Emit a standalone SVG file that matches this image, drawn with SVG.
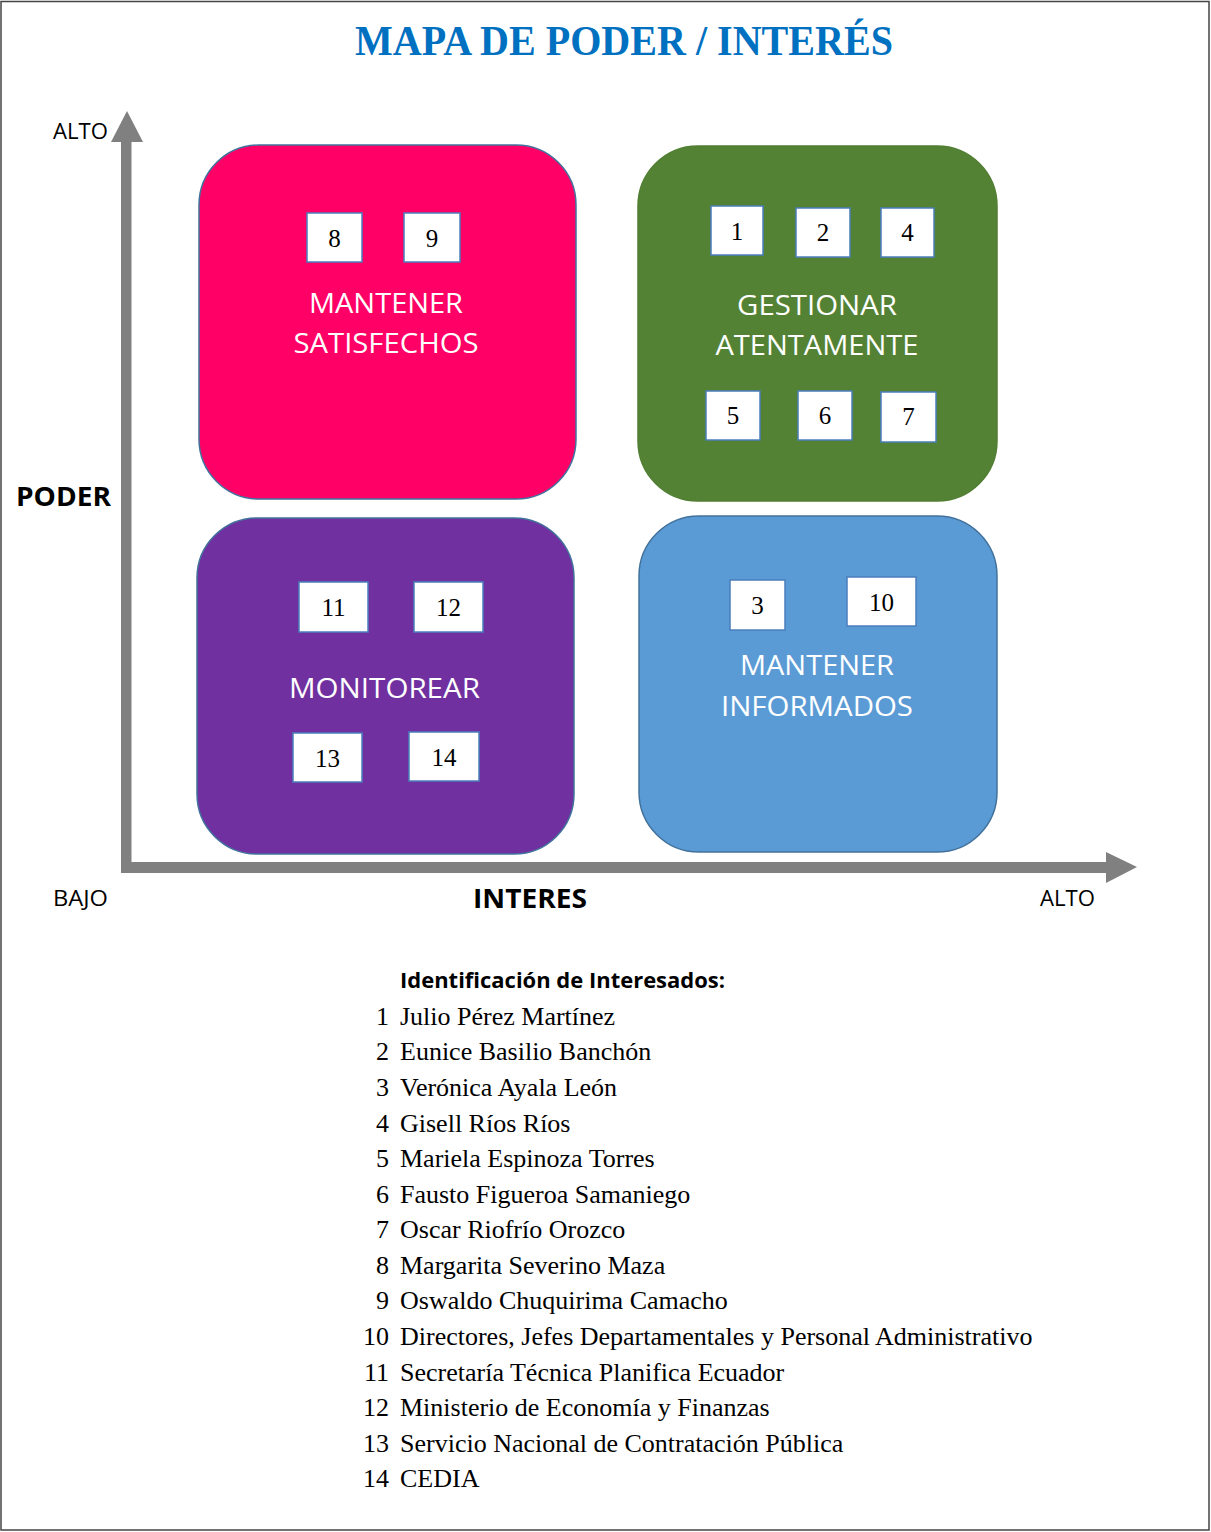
<svg xmlns="http://www.w3.org/2000/svg" width="1211" height="1532" viewBox="0 0 1211 1532">
<style>
.sans{font-family:"Open Sans","Liberation Sans",sans-serif;}
.lbl{font-family:"Open Sans","Liberation Sans",sans-serif;font-size:21px;fill:#000;}
.axt{font-family:"Open Sans","Liberation Sans",sans-serif;font-size:27px;font-weight:bold;fill:#000;}
.quad{stroke:#41719C;stroke-width:1.5;}
.qt{font-family:"Open Sans","Liberation Sans",sans-serif;font-size:28px;fill:#fff;text-anchor:middle;}
.box{fill:#fff;stroke:#4A7EBB;stroke-width:1.5;}
.num{font-family:"Liberation Serif","DejaVu Serif",serif;font-size:25px;fill:#000;text-anchor:middle;}
.li{font-family:"Liberation Serif","DejaVu Serif",serif;font-size:26px;fill:#000;}
.ln{text-anchor:end;}
</style>
<rect x="0" y="0" width="1211" height="1532" fill="#fff"/>
<rect x="1" y="1.5" width="1208" height="1528.5" fill="none" stroke="#444" stroke-width="1.5"/>
<text id="title" x="624" y="55" text-anchor="middle" font-family="'Liberation Serif',serif" font-weight="bold" font-size="42" fill="#0070C0" textLength="538" lengthAdjust="spacingAndGlyphs">MAPA DE PODER / INTERÉS</text>

<g id="axes" fill="#808080">
  <rect x="121" y="140" width="10.5" height="733"/>
  <polygon points="127,111 143,142 111,142"/>
  <rect x="121" y="862" width="986" height="11"/>
  <polygon points="1137,867 1106,852 1106,883"/>
</g>

<g id="axis-labels">
  <text class="lbl" x="53" y="139" textLength="55" lengthAdjust="spacingAndGlyphs">ALTO</text>
  <text class="axt" x="16" y="506" textLength="95" lengthAdjust="spacingAndGlyphs">PODER</text>
  <text class="lbl" x="53" y="906" textLength="55" lengthAdjust="spacingAndGlyphs">BAJO</text>
  <text class="axt" x="473" y="908" textLength="114" lengthAdjust="spacingAndGlyphs">INTERES</text>
  <text class="lbl" x="1040" y="906" textLength="55" lengthAdjust="spacingAndGlyphs">ALTO</text>
</g>

<g id="q-satisfechos">
  <rect class="quad" x="199" y="145" width="377" height="354" rx="60" fill="#FF0066"/>
  <rect class="box" x="307" y="213" width="55" height="49"/>
  <text class="num" x="334.5" y="247">8</text>
  <rect class="box" x="404" y="213" width="56" height="49"/>
  <text class="num" x="432" y="247">9</text>
  <text class="qt" x="386" y="313" textLength="154" lengthAdjust="spacingAndGlyphs">MANTENER</text>
  <text class="qt" x="386" y="353" textLength="185" lengthAdjust="spacingAndGlyphs">SATISFECHOS</text>
</g>

<g id="q-gestionar">
  <rect x="638" y="146" width="359" height="355" rx="60" fill="#548235" stroke="#507E32" stroke-width="1.5"/>
  <rect class="box" x="711" y="206" width="52" height="49"/>
  <text class="num" x="737" y="240">1</text>
  <rect class="box" x="796" y="208" width="54" height="49"/>
  <text class="num" x="823" y="241">2</text>
  <rect class="box" x="881" y="208" width="53" height="49"/>
  <text class="num" x="907.5" y="241">4</text>
  <text class="qt" x="817" y="315" textLength="160" lengthAdjust="spacingAndGlyphs">GESTIONAR</text>
  <text class="qt" x="817" y="355" textLength="203" lengthAdjust="spacingAndGlyphs">ATENTAMENTE</text>
  <rect class="box" x="706" y="391" width="54" height="49"/>
  <text class="num" x="733" y="424">5</text>
  <rect class="box" x="798" y="391" width="54" height="49"/>
  <text class="num" x="825" y="424">6</text>
  <rect class="box" x="881" y="392" width="55" height="50"/>
  <text class="num" x="908.5" y="425">7</text>
</g>

<g id="q-monitorear">
  <rect class="quad" x="197" y="518" width="377" height="336" rx="60" fill="#7030A0"/>
  <rect class="box" x="299" y="582" width="69" height="50"/>
  <text class="num" x="333.5" y="616">11</text>
  <rect class="box" x="414" y="582" width="69" height="50"/>
  <text class="num" x="448.5" y="616">12</text>
  <text class="qt" x="384.5" y="698" textLength="191" lengthAdjust="spacingAndGlyphs">MONITOREAR</text>
  <rect class="box" x="293" y="733" width="69" height="49"/>
  <text class="num" x="327.5" y="767">13</text>
  <rect class="box" x="409" y="732" width="70" height="49"/>
  <text class="num" x="444" y="766">14</text>
</g>

<g id="q-informados">
  <rect class="quad" x="639" y="516" width="358" height="336" rx="60" fill="#5B9BD5"/>
  <rect class="box" x="730" y="580" width="55" height="50"/>
  <text class="num" x="757.5" y="614">3</text>
  <rect class="box" x="847" y="577" width="69" height="49"/>
  <text class="num" x="881.5" y="611">10</text>
  <text class="qt" x="817" y="675" textLength="154" lengthAdjust="spacingAndGlyphs">MANTENER</text>
  <text class="qt" x="817" y="716" textLength="192" lengthAdjust="spacingAndGlyphs">INFORMADOS</text>
</g>

<g id="legend">
  <text x="400" y="988" font-family="'Open Sans','Liberation Sans',sans-serif" font-weight="bold" font-size="21" fill="#000" textLength="325" lengthAdjust="spacingAndGlyphs">Identificación de Interesados:</text>
  <text class="li ln" x="389" y="1025">1</text><text class="li" x="400" y="1025">Julio Pérez Martínez</text>
  <text class="li ln" x="389" y="1060">2</text><text class="li" x="400" y="1060">Eunice Basilio Banchón</text>
  <text class="li ln" x="389" y="1096">3</text><text class="li" x="400" y="1096">Verónica Ayala León</text>
  <text class="li ln" x="389" y="1132">4</text><text class="li" x="400" y="1132">Gisell Ríos Ríos</text>
  <text class="li ln" x="389" y="1167">5</text><text class="li" x="400" y="1167">Mariela Espinoza Torres</text>
  <text class="li ln" x="389" y="1203">6</text><text class="li" x="400" y="1203">Fausto Figueroa Samaniego</text>
  <text class="li ln" x="389" y="1238">7</text><text class="li" x="400" y="1238">Oscar Riofrío Orozco</text>
  <text class="li ln" x="389" y="1274">8</text><text class="li" x="400" y="1274">Margarita Severino Maza</text>
  <text class="li ln" x="389" y="1309">9</text><text class="li" x="400" y="1309">Oswaldo Chuquirima Camacho</text>
  <text class="li ln" x="389" y="1345">10</text><text class="li" x="400" y="1345">Directores, Jefes Departamentales y Personal Administrativo</text>
  <text class="li ln" x="389" y="1381">11</text><text class="li" x="400" y="1381">Secretaría Técnica Planifica Ecuador</text>
  <text class="li ln" x="389" y="1416">12</text><text class="li" x="400" y="1416">Ministerio de Economía y Finanzas</text>
  <text class="li ln" x="389" y="1452">13</text><text class="li" x="400" y="1452">Servicio Nacional de Contratación Pública</text>
  <text class="li ln" x="389" y="1487">14</text><text class="li" x="400" y="1487">CEDIA</text>
</g>
</svg>
